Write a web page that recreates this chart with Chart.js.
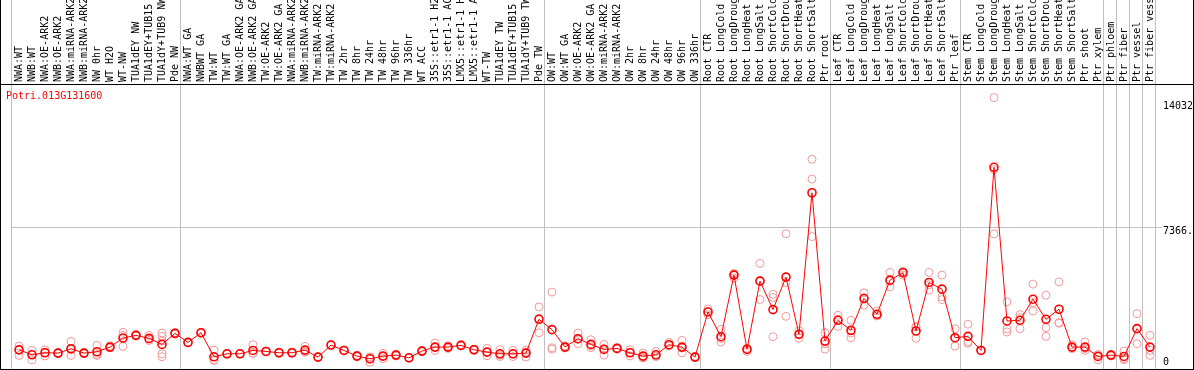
<!DOCTYPE html>
<html>
<head>
<meta charset="utf-8">
<script src="https://cdn.jsdelivr.net/npm/chart.js@4.4.1/dist/chart.umd.min.js"></script>
<style>
  html, body { margin: 0; padding: 0; background: #fff; }
  #wrap {
    position: relative;
    width: 1194px;
    height: 370px;
    box-sizing: border-box;
    border-left: 1px solid #000;
    border-right: 1px solid #000;
    border-bottom: 1px solid #000;
  }
  #title {
    position: absolute;
    left: 5px;
    top: 90px;
    font: 10px "DejaVu Sans Mono", monospace;
    color: #ff0000;
  }
</style>
</head>
<body>
<div id="wrap">
  <canvas id="chart" width="1192" height="369"></canvas>
  <div id="title">Potri.013G131600</div>
</div>
<script>
const cats = [
  "NWA:WT", "NWB:WT", "NWA:OE-ARK2", "NWB:OE-ARK2", "NWA:miRNA-ARK2", "NWB:miRNA-ARK2",
  "NW 0hr", "WT H2O", "WT-NW", "TUA1dEY NW", "TUA1dEY+TUB15", "TUA1dY+TUB9 NW", "Pde NW",
  "NWA:WT GA", "NWBWT GA", "TW:WT", "TW:WT GA", "NWA:OE-ARK2 GA", "NWB:OE-ARK2 GA",
  "TW:OE-ARK2", "TW:OE-ARK2 GA", "NWA:miRNA-ARK2", "NWB:miRNA-ARK2", "TW:miRNA-ARK2",
  "TW:miRNA-ARK2", "TW 2hr", "TW 8hr", "TW 24hr", "TW 48hr", "TW 96hr", "TW 336hr",
  "WT ACC", "35S::etr1-1 H2", "35S::etr1-1 AC", "LMX5::etr1-1 H", "LMX5::etr1-1 A",
  "WT-TW", "TUA1dEY TW", "TUA1dEY+TUB15", "TUA1dY+TUB9 TW", "Pde TW",
  "OW:WT", "OW:WT GA", "OW:OE-ARK2", "OW:OE-ARK2 GA", "OW:miRNA-ARK2", "OW:miRNA-ARK2",
  "OW 2hr", "OW 8hr", "OW 24hr", "OW 48hr", "OW 96hr", "OW 336hr",
  "Root CTR", "Root LongCold", "Root LongDroug", "Root LongHeat", "Root LongSalt",
  "Root ShortCold", "Root ShortDrou", "Root ShortHeat", "Root ShortSalt", "Ptr root",
  "Leaf CTR", "Leaf LongCold", "Leaf LongDroug", "Leaf LongHeat", "Leaf LongSalt",
  "Leaf ShortCold", "Leaf ShortDrou", "Leaf ShortHeat", "Leaf ShortSalt", "Ptr leaf",
  "Stem CTR", "Stem LongCold", "Stem LongDroug", "Stem LongHeat", "Stem LongSalt",
  "Stem ShortCold", "Stem ShortDrou", "Stem ShortHeat", "Stem ShortSalt",
  "Ptr shoot", "Ptr xylem", "Ptr phloem", "Ptr fiber", "Ptr vessel", "Ptr fiber vess"
];

const means = [
  885, 622, 729, 711, 942, 711, 782, 1031, 1511, 1653, 1493, 1173, 1760,
  1280, 1795, 516, 675, 675, 853, 800, 729, 729, 871, 498, 1138, 853, 551, 409,
  551, 604, 462, 818, 1031, 1031, 1120, 889, 764, 675, 675, 711, 2507,
  1956, 1031, 1475, 1173, 907, 960, 729, 551, 622, 1156, 1031, 498,
  2897, 1582, 4853, 907, 4533, 3022, 4746, 1706, 9226, 1351,
  2453, 1920, 3609, 2773, 4586, 4978, 1884, 4462, 4106, 1529,
  1600, 853, 10578, 2418, 2453, 3573, 2507, 3040, 1031,
  1031, 533, 604, 533, 2009, 1031
];

const reps = [
  [1083, 587, 885], [853, 355, 650], [880, 560, 740], [700, 740, 690],
  [1333, 587, 900], [680, 740, 720], [1120, 587, 640], [1000, 1100, 990],
  [1813, 1067, 1650], [1700, 1620, 1640], [1650, 1380, 1450],
  [1778, 1600, 1350, 675, 520], [1800, 1720, 1760],
  [1280, 1300, 1260], [1820, 1760, 1800], [870, 320, 360], [700, 650, 675],
  [690, 660, 675], [1156, 700, 700], [820, 780, 800], [760, 700, 730],
  [760, 700, 730], [1067, 760, 790], [520, 480, 500], [1160, 1120, 1130],
  [870, 840, 850], [600, 520, 530], [500, 500, 231], [700, 420, 530],
  [650, 560, 600], [480, 450, 460], [850, 800, 800], [1244, 850, 1000],
  [1100, 960, 1030], [1160, 1090, 1110], [920, 860, 890], [960, 570, 760],
  [900, 530, 600], [850, 530, 650], [870, 500, 760], [3164, 1795, 2560],
  [3950, 996, 920], [1100, 980, 1010], [1778, 1209, 1440], [1422, 1000, 1100],
  [1173, 604, 940], [1000, 920, 960], [890, 560, 740], [720, 450, 480],
  [800, 530, 540], [1280, 1100, 1090], [1387, 729, 980], [540, 470, 480],
  [3050, 2750, 2900], [1973, 1298, 1480], [4700, 4950, 4900], [800, 960, 960],
  [5476, 3556, 4570], [3840, 3662, 1582], [7050, 4462, 2666], [1900, 1500, 1720],
  [11000, 9950, 6900], [1795, 1200, 924],
  [2720, 2133, 2500], [2453, 1780, 1529], [3911, 3253, 3650], [2950, 2700, 2680],
  [4995, 4231, 4530], [5050, 4850, 5030], [2120, 1500, 2100], [4995, 4053, 4340],
  [4853, 3698, 3550], [2009, 1084, 1500],
  [2245, 1320, 1234], [860, 850, 880], [14276, 10453, 7040], [3431, 1831, 1990],
  [2755, 2009, 2600], [4373, 2951, 3400], [3787, 2062, 1600], [4497, 2330, 2300],
  [1150, 950, 1000],
  [1298, 850, 950], [600, 355, 640], [650, 560, 600], [818, 420, 360],
  [2808, 1209, 2010], [1653, 587, 850]
];

// group separators sit just before these category indexes
const bounds = [0, 13, 41, 53, 63, 73, 84, 85, 86, 87, 88];
const yTicks = [0, 7366, 14032];
const yTickLabels = ["0", "7366.", "14032"];

const shift = 0.615; // separators are a little left of the midpoint

const meanPts = means.map((v, i) => ({ x: i, y: v }));
const repPts = [];
reps.forEach((list, i) => list.forEach(v => repPts.push({ x: i, y: v })));

const gray = "#c0c0c0";
const sepColor = c => (c.type === "tick" && bounds.includes(c.index)) ? gray : "rgba(0,0,0,0)";
const midColor = c => (c.tick && c.tick.value === 7366) ? gray : "rgba(0,0,0,0)";

// black rule under the labels, across the whole width
const topRule = {
  id: "topRule",
  afterDraw(chart) {
    const { ctx, chartArea } = chart;
    ctx.save();
    ctx.strokeStyle = "#000";
    ctx.lineWidth = 1;
    ctx.beginPath();
    ctx.moveTo(0, Math.floor(chartArea.top) + 0.5);
    ctx.lineTo(chart.width, Math.floor(chartArea.top) + 0.5);
    ctx.stroke();
    ctx.restore();
  }
};

Chart.defaults.font.family = "'DejaVu Sans Mono', monospace";
Chart.defaults.font.size = 10;
Chart.defaults.color = "#000";

new Chart(document.getElementById("chart"), {
  type: "line",
  data: {
    datasets: [
      {
        label: "mean",
        data: meanPts,
        order: 0,
        borderColor: "#ff0000",
        borderWidth: 1,
        pointRadius: 4,
        pointBorderWidth: 1.6,
        pointBorderColor: "#ff0000",
        pointBackgroundColor: "rgba(0,0,0,0)",
        tension: 0
      },
      {
        label: "replicates",
        data: repPts,
        order: 1,
        showLine: false,
        pointRadius: 4,
        pointBorderWidth: 1,
        pointBorderColor: "#f29a9a",
        pointBackgroundColor: "rgba(0,0,0,0)"
      }
    ]
  },
  options: {
    responsive: false,
    animation: false,
    devicePixelRatio: 1,
    layout: { autoPadding: false, padding: { left: 10, right: 0, top: 0, bottom: 0 } },
    plugins: { legend: { display: false }, tooltip: { enabled: false } },
    scales: {
      x: {
        type: "linear",
        position: "top",
        min: -shift,
        max: cats.length - shift,
        afterBuildTicks: s => {
          s.ticks = cats.concat([""]).map((_, i) => ({ value: i - shift }));
        },
        afterFit: s => {
          s.height = 84;
          s.paddingLeft = 0;
          s.paddingRight = 0;
        },
        ticks: {
          autoSkip: false,
          minRotation: 90,
          maxRotation: 90,
          padding: -82,
          labelOffset: 20,
          callback: (v, i) => cats[i] || ""
        },
        grid: {
          color: sepColor,
          tickColor: sepColor,
          tickLength: 84,
          lineWidth: 1
        },
        border: { color: "#000", width: 1 }
      },
      y: {
        type: "linear",
        position: "right",
        min: -133,
        max: 15000,
        afterBuildTicks: s => { s.ticks = yTicks.map(v => ({ value: v })); },
        afterFit: s => {
          s.width = 38;
          s.paddingTop = 0;
          s.paddingBottom = 0;
        },
        ticks: {
          padding: 1,
          labelOffset: 4,
          font: { lineHeight: 1.7 },
          callback: (v, i) => (v === 0 ? [yTickLabels[i], ""] : yTickLabels[i])
        },
        grid: {
          color: midColor,
          tickColor: midColor,
          tickLength: 7
        },
        border: { display: false }
      }
    }
  },
  plugins: [topRule]
});
</script>
</body>
</html>
